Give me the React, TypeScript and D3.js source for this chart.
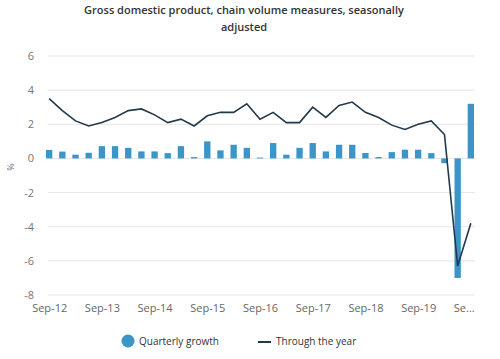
import React, { useEffect, useRef } from 'react';
import { select, scaleBand, scaleLinear, line, range } from 'd3';

const quarters = [
  'Sep-12', 'Dec-12', 'Mar-13', 'Jun-13', 'Sep-13', 'Dec-13', 'Mar-14', 'Jun-14',
  'Sep-14', 'Dec-14', 'Mar-15', 'Jun-15', 'Sep-15', 'Dec-15', 'Mar-16', 'Jun-16',
  'Sep-16', 'Dec-16', 'Mar-17', 'Jun-17', 'Sep-17', 'Dec-17', 'Mar-18', 'Jun-18',
  'Sep-18', 'Dec-18', 'Mar-19', 'Jun-19', 'Sep-19', 'Dec-19', 'Mar-20', 'Jun-20',
  'Sep-20',
];

const quarterlyGrowth = [
  0.5, 0.4, 0.22, 0.33, 0.72, 0.72, 0.62, 0.41,
  0.41, 0.31, 0.72, 0.08, 1.0, 0.47, 0.8, 0.62,
  0.05, 0.9, 0.22, 0.62, 0.9, 0.41, 0.8, 0.8,
  0.32, 0.08, 0.37, 0.51, 0.51, 0.31, -0.28, -7.0,
  3.2,
];

const throughTheYear = [
  3.5, 2.8, 2.2, 1.9, 2.1, 2.4, 2.8, 2.9,
  2.55, 2.1, 2.3, 1.9, 2.5, 2.7, 2.7, 3.2,
  2.3, 2.7, 2.1, 2.1, 3.0, 2.4, 3.1, 3.3,
  2.7, 2.4, 1.95, 1.7, 2.0, 2.2, 1.4, -6.3,
  -3.8,
];

const yTicks = [6, 4, 2, 0, -2, -4, -6, -8];
const xLabels = ['Sep-12', 'Sep-13', 'Sep-14', 'Sep-15', 'Sep-16', 'Sep-17', 'Sep-18', 'Sep-19', 'Se...'];

const W = 500, H = 359;
const FONT = '"Open Sans", "Noto Sans", sans-serif';
const BAR = '#3b95c9';
const LINE = '#22394a';

function GdpChart() {
  const svgRef = useRef<SVGSVGElement>(null);

  useEffect(() => {
    const svg = select(svgRef.current);
    svg.selectAll('*').remove();

    const x = scaleBand().domain(quarters).range([46, 474]).paddingInner(0.52);
    const y = scaleLinear().domain([-8, 6]).range([295, 56]);
    const cx = (q: string) => (x(q) as number) + x.bandwidth() / 2;

    // title
    svg.append('g')
      .selectAll('text')
      .data(['Gross domestic product, chain volume measures, seasonally', 'adjusted'])
      .join('text')
      .text(d => d)
      .attr('x', 244)
      .attr('y', (d, i) => 14 + i * 17)
      .attr('text-anchor', 'middle')
      .attr('font-family', FONT)
      .attr('font-size', 11)
      .attr('font-weight', 600)
      .attr('fill', '#333');

    // grid
    svg.append('g')
      .selectAll('line')
      .data(yTicks)
      .join('line')
      .attr('x1', 48).attr('x2', 475)
      .attr('y1', d => y(d)).attr('y2', d => y(d))
      .attr('stroke', '#e6e6e6')
      .attr('stroke-width', 1);

    svg.append('g')
      .selectAll('text')
      .data(yTicks)
      .join('text')
      .text(d => d)
      .attr('x', 34)
      .attr('y', d => y(d) + 4)
      .attr('text-anchor', 'end')
      .attr('font-family', FONT)
      .attr('font-size', 11)
      .attr('fill', '#777');

    svg.append('text')
      .text('%')
      .attr('transform', `translate(14, ${y(-0.5)}) rotate(-90)`)
      .attr('text-anchor', 'middle')
      .attr('font-family', FONT)
      .attr('font-size', 9)
      .attr('fill', '#777');

    // bars
    svg.append('g')
      .selectAll('rect')
      .data(quarterlyGrowth)
      .join('rect')
      .attr('x', (d, i) => x(quarters[i]) as number)
      .attr('width', x.bandwidth())
      .attr('y', d => y(Math.max(0, d)))
      .attr('height', d => Math.abs(y(d) - y(0)))
      .attr('fill', BAR);

    // through the year line
    const lineFn = line<number>()
      .x((d, i) => cx(quarters[i]))
      .y(d => y(d));
    svg.append('path')
      .datum(throughTheYear)
      .attr('d', lineFn)
      .attr('fill', 'none')
      .attr('stroke', LINE)
      .attr('stroke-width', 1.6);

    // x labels
    svg.append('g')
      .selectAll('text')
      .data(range(xLabels.length))
      .join('text')
      .text(i => xLabels[i])
      .attr('x', i => cx(quarters[i * 4]) - 17)
      .attr('y', 312)
      .attr('text-anchor', 'start')
      .attr('font-family', FONT)
      .attr('font-size', 11)
      .attr('fill', '#666');

    // legend
    const legend = svg.append('g').attr('font-family', FONT).attr('font-size', 10).attr('fill', '#333');
    legend.append('circle').attr('cx', 128).attr('cy', 341).attr('r', 6.5).attr('fill', BAR);
    legend.append('text').text('Quarterly growth').attr('x', 139).attr('y', 345);
    legend.append('line').attr('x1', 258).attr('x2', 271).attr('y1', 342).attr('y2', 342)
      .attr('stroke', LINE).attr('stroke-width', 2);
    legend.append('text').text('Through the year').attr('x', 276).attr('y', 345);
  }, []);

  return (
    <svg ref={svgRef} width={W} height={H} viewBox={`0 0 ${W} ${H}`}
      style={{ display: 'block', background: '#fff' }} />
  );
}

export default function App() {
  return (
    <div style={{ position: 'fixed', left: 0, top: 0, width: W, height: H, background: '#fff' }}>
      <GdpChart />
    </div>
  );
}
